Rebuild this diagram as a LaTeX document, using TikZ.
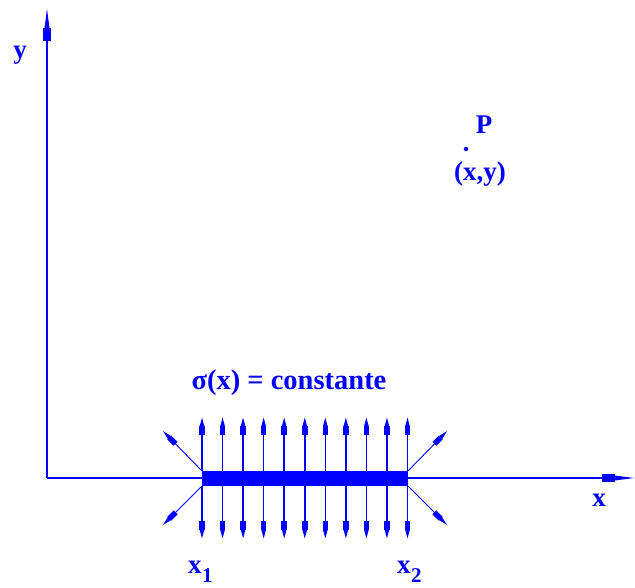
\documentclass[tikz,border=0pt]{standalone}
\usepackage{fontspec}
\setmainfont{Liberation Serif}
\usetikzlibrary{arrows.meta}
\definecolor{fblue}{RGB}{0,0,255}
\tikzset{
  axisline/.style={fblue, line width=1.5pt, -{Square[length=13pt,width=8pt] Triangle[length=20pt,width=4.5pt]}},
  farrow/.style={fblue, line width=1.6pt, -{Square[length=9pt,width=5.5pt] Triangle[length=9pt,width=4pt]}},
  darrow/.style={fblue, line width=0.9pt, -{Square[length=9pt,width=5.5pt] Triangle[length=9pt,width=4pt]}},
  lbl/.style={text=fblue, font=\fontsize{27}{30}\selectfont\bfseries, inner sep=0pt},
}
\newcommand{\mysub}[1]{\kern0.5pt\raisebox{-9pt}{\fontsize{21}{21}\selectfont #1}}
\begin{document}
\begin{tikzpicture}[x=1pt,y=-1pt]
\useasboundingbox (0,0) rectangle (635,587);
\coordinate (O) at (47,478);
\coordinate (ytip) at (47,8);
\coordinate (xtip) at (635,478);
\draw[axisline] (O) -- (ytip);
\draw[axisline] (O) -- (xtip);
\node[fill=fblue, inner sep=0pt, minimum width=206pt, minimum height=15pt, anchor=center] (bar) at (305,478.5) {};
\foreach \i in {0,...,10}{
  \coordinate (t\i) at ({202+\i*20.55},471);
  \coordinate (b\i) at ({202+\i*20.55},486);
  \coordinate (ut\i) at ({202+\i*20.55},417);
  \coordinate (dt\i) at ({202+\i*20.55},539);
  \draw[farrow] (t\i) -- (ut\i);
  \draw[farrow] (b\i) -- (dt\i);
}
\coordinate (ul) at (163,431);
\coordinate (dl) at (163,525);
\coordinate (ur) at (447,431);
\coordinate (dr) at (447,525);
\draw[darrow] (bar.north west) -- (ul);
\draw[darrow] (bar.south west) -- (dl);
\draw[darrow] (bar.north east) -- (ur);
\draw[darrow] (bar.south east) -- (dr);
\node[lbl] (ylab) at (20,55) {y};
\node[lbl] (xlab) at (599,500) {x};
\node[lbl] (P) at (484,125) {P};
\node[circle, fill=fblue, inner sep=0pt, minimum size=4.5pt] (Pdot) at (466,149) {};
\node[lbl] (Pxy) at (480,174) {(x,y)};
\node[lbl, font=\fontsize{28.5}{30}\selectfont\bfseries] (sigma) at (289,383) {σ(x) = constante};
\node[lbl, anchor=base west] (x1) at (188,573) {x\mysub{1}};
\node[lbl, anchor=base west] (x2) at (397,573) {x\mysub{2}};
\end{tikzpicture}
\end{document}
